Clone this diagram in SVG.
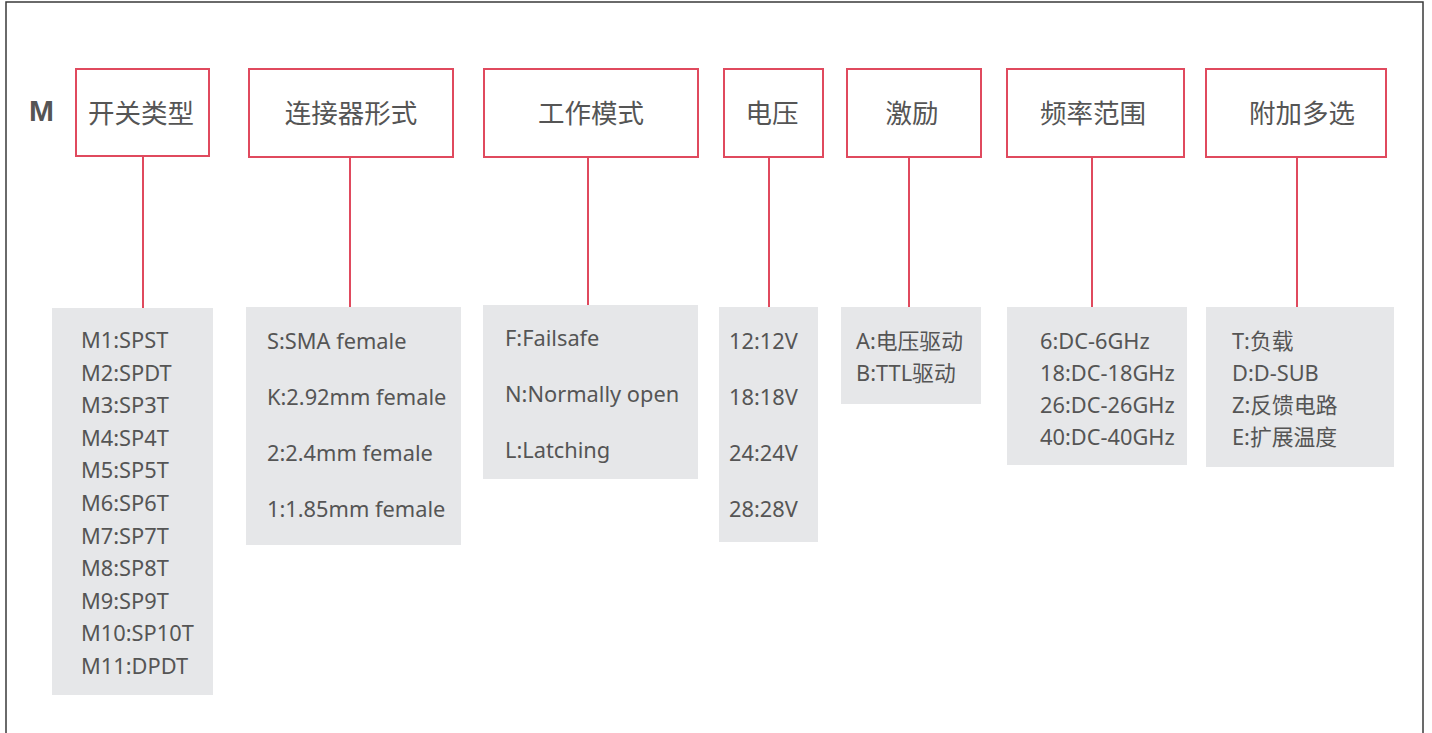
<svg xmlns="http://www.w3.org/2000/svg" width="1432" height="733" viewBox="0 0 1432 733">
<style>
.frame{fill:#fff;stroke:#3a3a3a;stroke-width:1.5}
.hd{fill:#fff;stroke:#e04a5e;stroke-width:2}
.ht{font-family:"Noto Sans","Noto Sans CJK SC",sans-serif;font-size:26.5px;fill:#555;text-anchor:middle}
.gb{fill:#e6e7e9}
.lt{font-family:"Noto Sans","Noto Sans CJK SC",sans-serif;font-size:21.8px;fill:#555}
.cn line{stroke:#e04a5e;stroke-width:2}
.m{font-family:"Liberation Sans",Arial,sans-serif;font-size:30px;font-weight:bold;fill:#555}
</style>
<rect class="frame" x="6" y="2" width="1417" height="760"/>
<text class="m" x="29" y="121">M</text>
<g id="connectors" class="cn">
<line x1="143" y1="156" x2="143" y2="308"/>
<line x1="350" y1="157" x2="350" y2="307"/>
<line x1="588" y1="157" x2="588" y2="305"/>
<line x1="769" y1="157" x2="769" y2="307"/>
<line x1="909" y1="157" x2="909" y2="307"/>
<line x1="1092" y1="157" x2="1092" y2="307"/>
<line x1="1297" y1="157" x2="1297" y2="307"/>
</g>
<g id="h1"><rect class="hd" x="76" y="69" width="133" height="87"/><text class="ht" x="141" y="123">开关类型</text></g>
<g id="h2"><rect class="hd" x="249" y="69" width="204" height="88"/><text class="ht" x="351" y="123">连接器形式</text></g>
<g id="h3"><rect class="hd" x="484" y="69" width="214" height="88"/><text class="ht" x="591" y="123">工作模式</text></g>
<g id="h4"><rect class="hd" x="724" y="69" width="99" height="88"/><text class="ht" x="772" y="123">电压</text></g>
<g id="h5"><rect class="hd" x="847" y="69" width="134" height="88"/><text class="ht" x="912" y="123">激励</text></g>
<g id="h6"><rect class="hd" x="1007" y="69" width="177" height="88"/><text class="ht" x="1093" y="123">频率范围</text></g>
<g id="h7"><rect class="hd" x="1206" y="69" width="180" height="88"/><text class="ht" x="1302" y="123">附加多选</text></g>
<g id="l1"><rect class="gb" x="52" y="308" width="161" height="387"/>
<text class="lt" x="81" y="348">M1:SPST</text>
<text class="lt" x="81" y="380.6">M2:SPDT</text>
<text class="lt" x="81" y="413.2">M3:SP3T</text>
<text class="lt" x="81" y="445.8">M4:SP4T</text>
<text class="lt" x="81" y="478.4">M5:SP5T</text>
<text class="lt" x="81" y="511">M6:SP6T</text>
<text class="lt" x="81" y="543.6">M7:SP7T</text>
<text class="lt" x="81" y="576.2">M8:SP8T</text>
<text class="lt" x="81" y="608.8">M9:SP9T</text>
<text class="lt" x="81" y="641.4">M10:SP10T</text>
<text class="lt" x="81" y="674">M11:DPDT</text>
</g>
<g id="l2"><rect class="gb" x="246" y="307" width="215" height="238"/>
<text class="lt" x="267" y="349">S:SMA female</text>
<text class="lt" x="267" y="405">K:2.92mm female</text>
<text class="lt" x="267" y="461">2:2.4mm female</text>
<text class="lt" x="267" y="517">1:1.85mm female</text>
</g>
<g id="l3"><rect class="gb" x="483" y="305" width="215" height="174"/>
<text class="lt" x="505" y="346">F:Failsafe</text>
<text class="lt" x="505" y="402">N:Normally open</text>
<text class="lt" x="505" y="458">L:Latching</text>
</g>
<g id="l4"><rect class="gb" x="719" y="307" width="99" height="235"/>
<text class="lt" x="729" y="349">12:12V</text>
<text class="lt" x="729" y="405">18:18V</text>
<text class="lt" x="729" y="461">24:24V</text>
<text class="lt" x="729" y="517">28:28V</text>
</g>
<g id="l5"><rect class="gb" x="841" y="307" width="140" height="97"/>
<text class="lt" x="856" y="349">A:电压驱动</text>
<text class="lt" x="856" y="381">B:TTL驱动</text>
</g>
<g id="l6"><rect class="gb" x="1007" y="307" width="180" height="158"/>
<text class="lt" x="1040" y="349">6:DC-6GHz</text>
<text class="lt" x="1040" y="381">18:DC-18GHz</text>
<text class="lt" x="1040" y="413">26:DC-26GHz</text>
<text class="lt" x="1040" y="445">40:DC-40GHz</text>
</g>
<g id="l7"><rect class="gb" x="1206" y="307" width="188" height="160"/>
<text class="lt" x="1232" y="349">T:负载</text>
<text class="lt" x="1232" y="381">D:D-SUB</text>
<text class="lt" x="1232" y="413">Z:反馈电路</text>
<text class="lt" x="1232" y="445">E:扩展温度</text>
</g>
</svg>
